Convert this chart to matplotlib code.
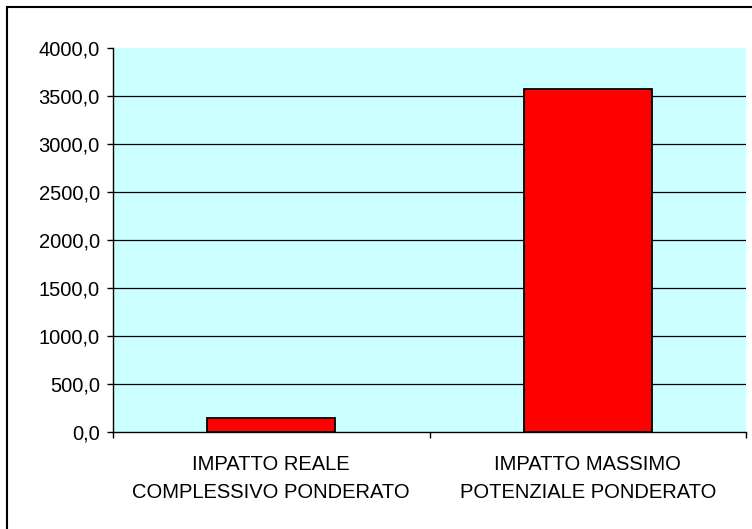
import matplotlib.pyplot as plt
from matplotlib.patches import Rectangle
from matplotlib.ticker import FuncFormatter, FixedLocator

# valori dell'indice di impatto
categorie = ["IMPATTO REALE\nCOMPLESSIVO PONDERATO", "IMPATTO MASSIMO\nPOTENZIALE PONDERATO"]
valori = [145.0, 3578.0]
tick_y = [0, 500, 1000, 1500, 2000, 2500, 3000, 3500, 4000]

plt.rcParams["font.family"] = ["Liberation Sans", "DejaVu Sans"]

fig = plt.figure(figsize=(7.52, 5.29), dpi=100)
ax = fig.add_axes([113 / 752, 1 - 432 / 529, 633 / 752, 384 / 529])

# cornice esterna del grafico
fig.patches.append(Rectangle((7 / 752, -0.01), 1.0, 1 - 7 / 529 + 0.01,
                             transform=fig.transFigure, fill=False,
                             edgecolor="black", linewidth=1.5))

ax.set_facecolor("#ccffff")
x = [0, 1]
ax.bar(x, valori, width=0.405, color="#ff0000", edgecolor="black", linewidth=1.3, zorder=3)

ax.set_xlim(-0.5, 1.5)
ax.set_ylim(0, 4000)
ax.set_yticks(tick_y)
ax.yaxis.set_major_formatter(FuncFormatter(lambda v, p: f"{v:.1f}".replace(".", ",")))

# griglia orizzontale (senza linea su 0 e 4000)
for v in tick_y[1:-1]:
    ax.axhline(v, color="black", linewidth=0.9, zorder=1)

# tacche tra le categorie, etichette centrate
ax.xaxis.set_major_locator(FixedLocator([-0.5, 0.5, 1.5]))
ax.xaxis.set_major_formatter(FuncFormatter(lambda v, p: ""))
ax.xaxis.set_minor_locator(FixedLocator(x))
ax.set_xticklabels(categorie, minor=True, linespacing=1.6)
ax.tick_params(axis="x", which="minor", length=0, pad=16.5, labelsize=14.5)
ax.tick_params(axis="x", which="major", length=4.5, width=1, direction="out")
ax.tick_params(axis="y", length=4.5, width=1, direction="out", labelsize=14.5, pad=5)

for s in ["top", "right"]:
    ax.spines[s].set_visible(False)
for s in ["left", "bottom"]:
    ax.spines[s].set_linewidth(1)
    ax.spines[s].set_color("black")

fig.savefig("out.png", dpi=100)
